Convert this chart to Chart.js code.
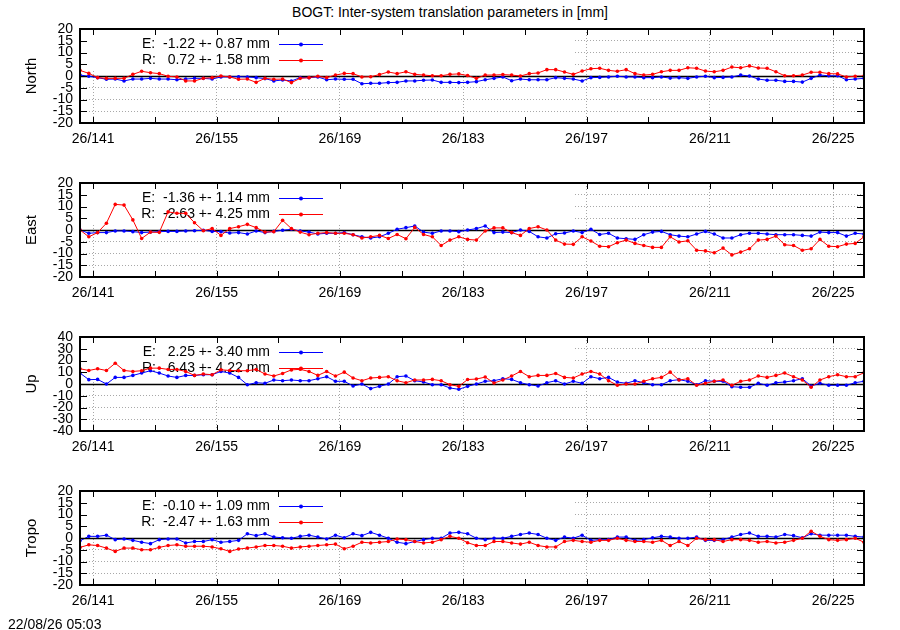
<!DOCTYPE html>
<html>
<head>
<meta charset="utf-8">
<title>BOGT inter-system translation</title>
<script src="https://cdn.jsdelivr.net/npm/chart.js@4.4.1/dist/chart.umd.min.js"></script>
<style>
  html, body { margin: 0; padding: 0; background: #fff; }
  body { width: 900px; height: 630px; position: relative; overflow: hidden;
         font-family: "Liberation Sans", Arial, sans-serif; color: #000; }
  .title { position: absolute; left: 0; width: 900px; top: 4px; text-align: center; font-size: 14px; }
  .stamp { position: absolute; left: 8px; top: 616px; font-size: 14px; }
  canvas { position: absolute; left: 0; }
</style>
</head>
<body>
<div class="title">BOGT: Inter-system translation parameters in [mm]</div>
<canvas id="north" width="900" height="150" style="top:13px"></canvas>
<canvas id="east" width="900" height="150" style="top:167px"></canvas>
<canvas id="up" width="900" height="150" style="top:321px"></canvas>
<canvas id="tropo" width="900" height="150" style="top:475px"></canvas>
<div class="stamp">22/08/26 05:03</div>

<script>
/* daily solutions, day of year 2026 (noon epochs) */
const days = [
  139.5, 140.5, 141.5, 142.5, 143.5, 144.5, 145.5, 146.5, 147.5, 148.5,
  149.5, 150.5, 151.5, 152.5, 153.5, 154.5, 155.5, 156.5, 157.5, 158.5,
  159.5, 160.5, 161.5, 162.5, 163.5, 164.5, 165.5, 166.5, 167.5, 168.5,
  169.5, 170.5, 171.5, 172.5, 173.5, 174.5, 175.5, 176.5, 177.5, 178.5,
  179.5, 180.5, 181.5, 182.5, 183.5, 184.5, 185.5, 186.5, 187.5, 188.5,
  189.5, 190.5, 191.5, 192.5, 193.5, 194.5, 195.5, 196.5, 197.5, 198.5,
  199.5, 200.5, 201.5, 202.5, 203.5, 204.5, 205.5, 206.5, 207.5, 208.5,
  209.5, 210.5, 211.5, 212.5, 213.5, 214.5, 215.5, 216.5, 217.5, 218.5,
  219.5, 220.5, 221.5, 222.5, 223.5, 224.5, 225.5, 226.5, 227.5, 228.5
];
const tickDays = [141, 148, 155, 162, 169, 176, 183, 190, 197, 204, 211, 218, 225];
const majorDays = [141, 155, 169, 183, 197, 211, 225];

const northE = [
  0.4, -0.1, -0.7, -1.4, -1.3, -2.1, -1.3, -1.3, -1.0, -1.3,
  -1.3, -1.6, -1.3, -1.0, -1.0, -1.3, -0.4, -0.4, -0.3, -0.4,
  -0.7, -1.1, -2.1, -1.7, -2.1, -0.7, -0.7, -0.4, -1.6, -1.3,
  -1.4, -1.4, -3.3, -3.1, -3.1, -2.8, -2.7, -2.1, -2.1, -1.8,
  -1.7, -2.7, -2.7, -2.8, -2.7, -2.4, -1.6, -1.0, -0.4, -2.0,
  -1.3, -1.6, -1.6, -1.6, -0.7, -1.0, -1.3, -2.1, -0.7, -0.6,
  -0.4, -0.1, -0.4, -0.4, -0.7, -0.7, -0.4, -0.9, -0.7, -1.0,
  -0.4, -0.1, -0.7, -0.6, -0.4, 0.4, 0.0, -1.3, -1.8, -1.8,
  -2.3, -2.3, -2.6, -1.0, 0.4, 0.1, 0.1, -1.6, -1.3, -1.0
];
const northR = [
  2.4, 1.1, -0.7, -1.0, -1.0, -1.0, 0.7, 2.0, 1.4, 1.0,
  -0.1, -0.4, -2.1, -2.1, -1.0, -0.7, 0.0, -0.4, -1.4, -1.3,
  -2.7, -1.0, -1.4, -1.3, -2.8, -1.0, -0.7, -0.1, -0.7, 0.4,
  1.1, 1.0, -0.4, -0.3, 0.6, 1.7, 1.0, 1.8, 0.7, 0.4,
  0.1, 0.1, 0.7, 0.9, 0.2, -1.0, 0.4, 0.4, 0.6, 0.4,
  0.0, 1.0, 1.3, 2.7, 2.7, 1.7, 0.7, 2.1, 3.1, 3.3,
  2.4, 2.0, 2.7, 1.0, 0.4, 0.7, 1.8, 2.4, 2.4, 3.5,
  3.3, 2.1, 1.8, 2.4, 3.8, 3.5, 4.3, 3.4, 3.3, 1.8,
  0.1, 0.1, 0.4, 1.6, 1.6, 1.0, 0.9, -0.4, -0.1, 0.0
];
const eastE = [
  0.0, -1.4, -1.1, -1.1, -0.4, -0.4, -0.7, -1.1, -0.9, -0.7,
  -0.6, -0.6, -0.4, -0.3, -0.1, -0.6, -0.7, -1.3, -1.1, -1.7,
  -0.4, -1.1, -0.6, -0.1, 0.3, -0.4, -0.9, -1.7, -1.4, -1.4,
  -1.1, -2.0, -2.9, -3.4, -2.9, -1.4, 0.3, 1.0, 1.7, -0.9,
  -1.4, -0.4, -0.4, -0.7, 0.0, 0.6, 1.7, -1.1, -0.9, -1.1,
  0.0, -0.6, -2.9, -3.4, -1.6, -1.3, -0.4, -1.1, 0.3, -1.9,
  -1.4, -3.4, -3.7, -4.0, -2.0, -0.9, -0.6, -2.0, -2.6, -2.9,
  -1.7, -0.6, -1.7, -3.4, -3.4, -2.0, -1.4, -1.4, -1.7, -2.0,
  -2.0, -2.0, -2.3, -2.6, -0.9, -1.1, -1.1, -2.6, -1.4, -1.7
];
const eastR = [
  0.0, -2.9, -1.1, 2.9, 10.9, 10.6, 4.3, -3.6, -0.9, -1.0,
  7.7, 7.1, 7.1, 3.1, -0.3, 0.6, -2.3, 0.6, 1.4, 2.4,
  1.0, -0.9, -0.7, 4.1, 0.6, -0.9, -2.0, -1.4, -1.1, -1.4,
  -1.4, -2.0, -3.4, -2.9, -2.3, -3.6, -1.9, -3.7, 1.1, -1.9,
  -2.9, -6.6, -4.3, -2.9, -4.0, -4.3, -0.4, 0.9, 0.9, -1.1,
  -2.3, 0.6, 1.4, 0.0, -4.3, -6.0, -6.1, -2.9, -4.7, -6.9,
  -7.1, -5.4, -4.3, -5.7, -6.6, -7.4, -7.4, -2.9, -5.1, -4.6,
  -8.6, -8.9, -9.7, -7.7, -10.6, -9.4, -8.0, -4.3, -4.0, -2.6,
  -6.3, -6.6, -8.6, -8.0, -4.0, -6.9, -7.1, -6.0, -5.7, -2.9
];
const upE = [
  9.3, 3.7, 3.9, 0.0, 5.6, 5.6, 7.3, 9.3, 11.3, 9.3,
  6.8, 5.6, 7.3, 7.3, 7.9, 7.9, 10.7, 9.3, 5.6, -0.6,
  1.1, 0.6, 3.4, 2.8, 3.4, 2.8, 2.8, 4.5, 6.2, 2.3,
  2.3, -1.7, 0.0, -3.9, -2.0, 0.0, 6.2, 6.8, 2.8, 1.7,
  -0.6, -0.6, -3.4, -4.5, -2.0, 0.0, 2.3, 2.8, 4.5, 3.9,
  1.1, -0.6, -1.7, 1.1, 2.8, 0.0, 2.3, 0.6, 6.2, 4.5,
  5.6, 1.7, 0.6, 2.8, 1.1, -0.6, -0.6, 2.8, 3.7, 2.3,
  -0.6, 2.8, 2.3, 2.3, -2.3, -2.8, -2.8, 0.6, -1.1, 1.1,
  1.7, 2.8, 4.5, -1.7, 0.6, -1.1, -1.1, -1.1, 1.1, 2.3
];
const upR = [
  13.0, 11.5, 13.0, 11.5, 17.7, 11.5, 10.7, 11.3, 13.5, 13.5,
  12.4, 12.4, 10.7, 7.3, 8.5, 7.9, 12.1, 11.5, 11.3, 11.3,
  12.4, 8.5, 6.8, 9.0, 12.0, 12.5, 10.7, 7.3, 10.7, 6.8,
  10.1, 5.1, 2.8, 5.1, 5.6, 6.2, 2.8, 1.1, 3.4, 3.4,
  3.9, 2.8, -0.6, -2.0, 3.8, 4.2, 5.9, 0.8, 3.4, 6.8,
  10.7, 6.2, 7.3, 7.3, 9.0, 5.6, 5.1, 8.5, 10.7, 8.5,
  2.8, -1.1, 0.0, 0.0, 2.3, 4.5, 5.6, 10.1, 3.4, 4.5,
  -1.1, 0.6, 2.3, 3.4, -1.1, 2.3, 3.4, 6.8, 5.6, 7.3,
  9.3, 6.2, 3.4, -2.8, 3.4, 6.2, 7.9, 6.2, 6.2, 9.6
];
const tropoE = [
  -1.2, 0.7, 0.7, 1.2, -0.7, -0.4, -1.0, -1.8, -2.4, -0.7,
  -0.4, -0.4, -2.1, -1.5, -1.5, -0.7, -1.8, -1.5, -1.0, 1.8,
  1.0, 1.8, 0.4, 0.1, -0.1, 0.7, 1.2, 0.4, -0.4, 1.2,
  0.1, 1.8, 1.0, 2.4, 1.2, -0.1, -1.8, -2.4, -1.5, -0.7,
  -0.1, -0.1, 2.1, 2.4, 1.8, -0.1, -0.7, -0.1, -0.1, 0.7,
  1.5, 2.1, 1.5, -0.1, -1.0, 0.4, -0.1, 1.2, -1.0, -0.7,
  -0.7, 0.4, 0.4, -1.0, -0.7, 0.1, 0.7, 0.4, -0.1, -0.1,
  0.4, -1.0, -1.0, -0.7, 0.4, 1.5, 2.1, 0.7, 0.7, 0.4,
  1.5, 1.0, 0.1, 1.8, 1.2, 1.2, 1.2, 1.2, 0.7, 0.4
];
const tropoR = [
  -4.0, -2.9, -3.2, -4.3, -5.7, -4.3, -4.3, -5.0, -5.0, -4.0,
  -3.2, -2.9, -3.5, -3.5, -3.5, -3.8, -4.6, -5.7, -4.7, -4.3,
  -3.8, -3.2, -3.2, -3.5, -4.3, -3.8, -3.5, -3.2, -2.9, -2.6,
  -4.6, -3.5, -1.8, -2.1, -1.8, -1.5, -0.4, -0.7, -1.5, -2.1,
  -1.8, -0.7, 0.7, -0.1, -2.0, -3.2, -3.2, -1.5, -1.5, -2.1,
  -2.6, -1.8, -3.2, -3.8, -3.8, -1.5, -1.0, -1.5, -1.8, -1.0,
  -1.0, -0.1, -1.0, -1.5, -1.5, -1.8, -1.0, -3.2, -1.5, -3.2,
  -0.1, -0.7, -0.7, -1.5, -0.7, -0.7, -1.0, -1.8, -1.5, -2.1,
  -1.8, -1.0, -0.1, 2.9, 0.7, -0.7, -1.0, -0.7, -0.1, -1.8
];

const panels = [
  { id: 'north', name: 'North', lim: 20, step: 5, e: northE, r: northR,
    keyE: 'E:  -1.22 +- 0.87 mm', keyR: 'R:   0.72 +- 1.58 mm' },
  { id: 'east', name: 'East', lim: 20, step: 5, e: eastE, r: eastR,
    keyE: 'E:  -1.36 +- 1.14 mm', keyR: 'R:  -2.63 +- 4.25 mm' },
  { id: 'up', name: 'Up', lim: 40, step: 10, e: upE, r: upR,
    keyE: 'E:   2.25 +- 3.40 mm', keyR: 'R:   6.43 +- 4.22 mm' },
  { id: 'tropo', name: 'Tropo', lim: 20, step: 5, e: tropoE, r: tropoR,
    keyE: 'E:  -0.10 +- 1.09 mm', keyR: 'R:  -2.47 +- 1.63 mm' }
];

const FONT = '"Liberation Sans", Arial, sans-serif';
const BLUE = '#0000ff';
const RED = '#ff0000';
const GRID = '#a8a8a8';

// gnuplot-ish extras: opaque key box, key, zero axis, frame, inward ticks, axis name
const gnuplotLook = {
  id: 'gnuplotLook',
  beforeDatasetsDraw(chart, args, opts) {
    const { ctx, chartArea: a } = chart;
    const y = chart.scales.y;
    ctx.save();
    ctx.fillStyle = '#fff';
    ctx.fillRect(a.left + 1, a.top + 1, 573 - a.left, 40);

    const y0 = Math.round(y.getPixelForValue(0)) + 0.5;
    ctx.strokeStyle = '#000';
    ctx.lineWidth = 1.5;
    ctx.beginPath(); ctx.moveTo(a.left, y0); ctx.lineTo(a.right, y0); ctx.stroke();

    ctx.font = '14px ' + FONT;
    ctx.textAlign = 'right';
    ctx.textBaseline = 'middle';
    opts.keys.forEach((k, i) => {
      const ty = a.top + 15.5 + i * 16;
      ctx.fillStyle = '#000';
      ctx.fillText(k.text, 270, ty);
      ctx.strokeStyle = k.color;
      ctx.lineWidth = 1;
      ctx.beginPath(); ctx.moveTo(279, ty); ctx.lineTo(323, ty); ctx.stroke();
      ctx.fillStyle = k.color;
      ctx.beginPath(); ctx.arc(301, ty, 2, 0, Math.PI * 2); ctx.fill();
    });
    ctx.restore();
  },
  afterDraw(chart, args, opts) {
    const { ctx, chartArea: a, scales: { x, y } } = chart;
    ctx.save();
    ctx.strokeStyle = '#000';
    ctx.lineWidth = 1;
    ctx.beginPath();
    x.ticks.forEach(t => {
      const px = Math.round(x.getPixelForValue(t.value)) + 0.5;
      ctx.moveTo(px, a.bottom); ctx.lineTo(px, a.bottom - 6);
      ctx.moveTo(px, a.top); ctx.lineTo(px, a.top + 6);
    });
    y.ticks.forEach(t => {
      const py = Math.round(y.getPixelForValue(t.value)) + 0.5;
      ctx.moveTo(a.left, py); ctx.lineTo(a.left + 7, py);
      ctx.moveTo(a.right, py); ctx.lineTo(a.right - 7, py);
    });
    ctx.stroke();

    ctx.lineWidth = 2;
    ctx.strokeRect(a.left, a.top, a.right - a.left, a.bottom - a.top);

    ctx.fillStyle = '#000';
    ctx.font = '15px ' + FONT;
    ctx.textAlign = 'center';
    ctx.textBaseline = 'middle';
    ctx.translate(32, (a.top + a.bottom) / 2);
    ctx.rotate(-Math.PI / 2);
    ctx.fillText(opts.name, 0, 0);
    ctx.restore();
  }
};

function series(vals) {
  return days.map((d, i) => ({ x: d, y: vals[i] }));
}

function renderPanel(p) {
  const ctx = document.getElementById(p.id);
  new Chart(ctx, {
    type: 'line',
    data: {
      datasets: [
        { label: 'E', data: series(p.e), borderColor: BLUE, backgroundColor: BLUE,
          borderWidth: 1, pointRadius: 1.8, pointBorderWidth: 0, order: 2 },
        { label: 'R', data: series(p.r), borderColor: RED, backgroundColor: RED,
          borderWidth: 1, pointRadius: 1.8, pointBorderWidth: 0, order: 1 }
      ]
    },
    options: {
      responsive: false,
      animation: false,
      devicePixelRatio: 1,
      events: [],
      layout: { padding: { top: 16, left: 0, right: 36, bottom: 0 } },
      plugins: {
        legend: { display: false },
        tooltip: { enabled: false },
        gnuplotLook: {
          name: p.name,
          keys: [{ text: p.keyE, color: BLUE }, { text: p.keyR, color: RED }]
        }
      },
      scales: {
        x: {
          type: 'linear',
          min: 139.5,
          max: 228.5,
          afterBuildTicks: s => { s.ticks = tickDays.map(v => ({ value: v })); },
          afterFit: s => { s.height = 40; },
          ticks: {
            autoSkip: false, maxRotation: 0, padding: 8, color: '#000',
            font: { size: 14, family: FONT },
            callback: v => majorDays.includes(v) ? '26/' + v : ''
          },
          grid: {
            drawTicks: false, lineWidth: 1,
            color: c => (c.tick && majorDays.includes(c.tick.value)) ? GRID : 'rgba(0,0,0,0)'
          },
          border: { display: false, dash: [1, 2] }
        },
        y: {
          min: -p.lim,
          max: p.lim,
          afterFit: s => { s.width = 80; },
          ticks: {
            stepSize: p.step, autoSkip: false, padding: 7, color: '#000',
            font: { size: 14, family: FONT }
          },
          grid: {
            drawTicks: false, lineWidth: 1,
            color: c => (c.tick && c.tick.value === 0) ? 'rgba(0,0,0,0)' : GRID
          },
          border: { display: false, dash: [1, 2] }
        }
      }
    },
    plugins: [gnuplotLook]
  });
}

panels.forEach(renderPanel);
</script>
</body>
</html>
